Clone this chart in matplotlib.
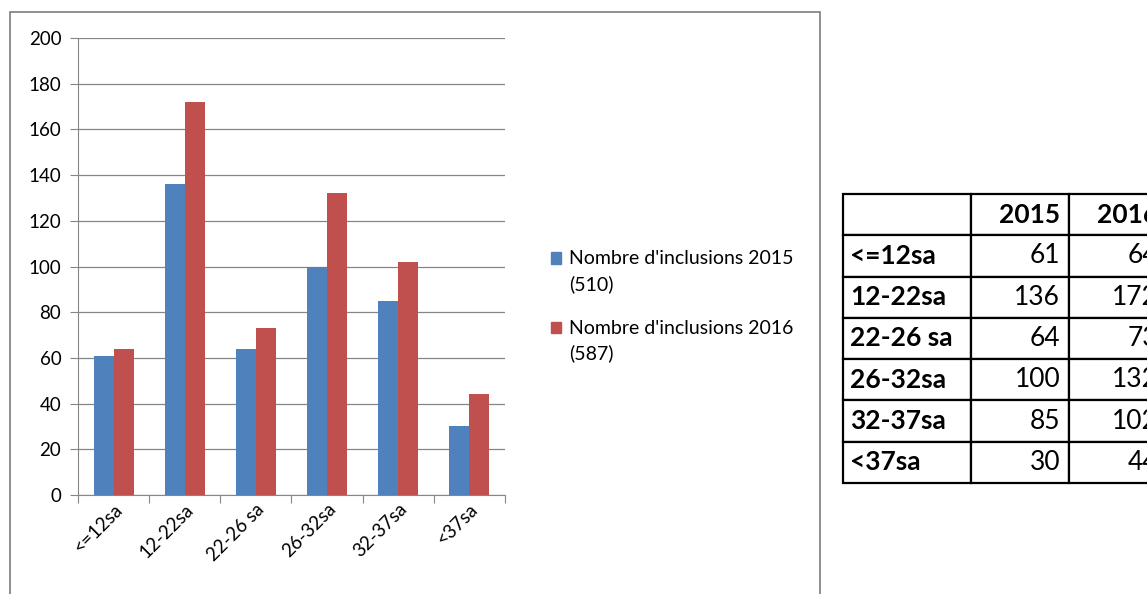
import matplotlib.pyplot as plt
from matplotlib.patches import Rectangle, Patch
import numpy as np

plt.rcParams['font.family'] = ['Lato', 'DejaVu Sans']

categories = ['<=12sa', '12-22sa', '22-26 sa', '26-32sa', '32-37sa', '<37sa']
incl_2015 = [61, 136, 64, 100, 85, 30]
incl_2016 = [64, 172, 73, 132, 102, 44]
label_2015 = "Nombre d'inclusions 2015\n(510)"
label_2016 = "Nombre d'inclusions 2016\n(587)"
years = ['2015', '2016']

blue = '#4F81BD'
red = '#C0504D'

W, H = 1147, 594
fig = plt.figure(figsize=(W / 100, H / 100), dpi=100)

# chart frame (excel style), runs off the bottom
fig.patches.append(Rectangle((10 / W, -0.1), 810 / W, (H - 12) / H + 0.1,
                             transform=fig.transFigure, fill=False,
                             edgecolor='#868686', linewidth=1.3))

ax = fig.add_axes([78 / W, (H - 495) / H, 427 / W, 457 / H])
x = np.arange(len(categories))
bw = 0.28
ax.bar(x - bw / 2, incl_2015, bw, color=blue, label=label_2015, zorder=3)
ax.bar(x + bw / 2, incl_2016, bw, color=red, label=label_2016, zorder=3)

ax.set_xlim(-0.5, len(categories) - 0.5)
ax.set_ylim(0, 200)
ax.set_yticks(range(0, 201, 20))
ax.grid(axis='y', color='#868686', linewidth=0.9, zorder=0)
ax.set_xticks(np.arange(-0.5, len(categories), 1.0))
ax.set_xticklabels([])
ax.set_xticks(x, minor=True)
ax.set_xticklabels(categories, minor=True, rotation=45, ha='right',
                   rotation_mode='anchor', fontsize=13.5)
ax.tick_params(axis='x', which='minor', length=0, pad=4)
ax.tick_params(axis='x', which='major', length=6, color='#868686')
ax.tick_params(axis='y', length=6, color='#868686', labelsize=13.5, pad=6)
for s in ['top', 'right']:
    ax.spines[s].set_visible(False)
for s in ['left', 'bottom']:
    ax.spines[s].set_color('#868686')

fs = 14
handles = [Patch(color=blue), Patch(color=red)]
leg = fig.legend(handles, [label_2015, label_2016], loc='upper left',
                 bbox_to_anchor=(533 / W, 1 - 233 / H), frameon=False,
                 fontsize=fs, handlelength=0.55, handleheight=0.55,
                 handletextpad=0.4, labelspacing=1.4)
for t in leg.get_texts():
    t.set_linespacing(1.5)
# put the square next to the first line of each label
for hp in leg.legend_handles:
    hp.set_y(hp.get_y() + 0.72 * fs)

# data table at right
tax = fig.add_axes([843 / W, (H - 483) / H, 324 / W, 289 / H])
tax.axis('off')
cell_text = [[''] + years]
for c, a, b in zip(categories, incl_2015, incl_2016):
    cell_text.append([c, str(a), str(b)])
tbl = tax.table(cellText=cell_text, bbox=[0, 0, 1, 1],
                colWidths=[128, 98, 98])
tbl.auto_set_font_size(False)
for (r, c), cell in tbl.get_celld().items():
    cell.set_linewidth(1.6)
    cell.set_edgecolor('black')
    t = cell.get_text()
    t.set_fontsize(19)
    if c == 0:
        cell.set_text_props(ha='left', weight='bold')
        cell.PAD = 0.055
    else:
        cell.set_text_props(ha='right')
        cell.PAD = 0.09
    if r == 0:
        t.set_weight('bold')

fig.savefig('out.png', dpi=100)
